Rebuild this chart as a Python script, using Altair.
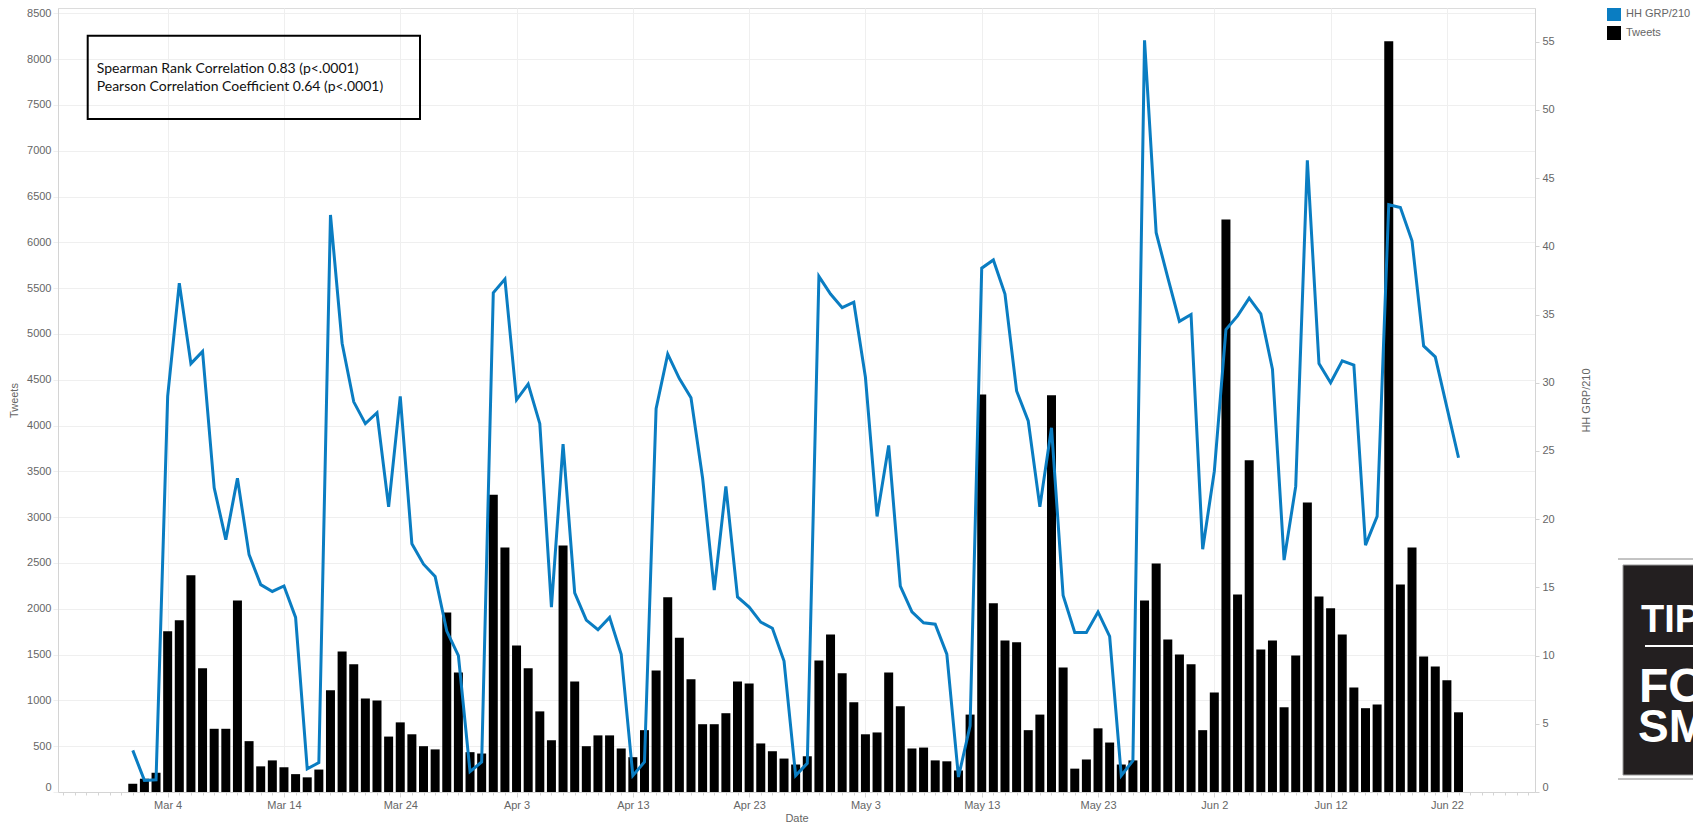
import altair as alt
import pandas as pd

# ---------------- data ----------------
dates = pd.date_range("2015-03-01", "2015-06-23", freq="D")

tweets = [
    # March
    90, 145, 210, 1755, 1875, 2365, 1350, 690, 690, 2090,
    555, 280, 345, 270, 195, 160, 245, 1110, 1535, 1395,
    1020, 1000, 605, 760, 630, 500, 465, 1960, 1305, 435, 420,
    # April
    3245, 2670, 1600, 1350, 880, 565, 2690, 1205, 500, 618,
    618, 475, 380, 675, 1325, 2125, 1685, 1230, 740, 740,
    860, 1205, 1185, 530, 445, 365, 300, 390, 1435, 1720,
    # May
    1295, 980, 630, 650, 1305, 935, 475, 485, 345, 335,
    235, 845, 4340, 2060, 1655, 1635, 675, 845, 4330, 1360,
    255, 355, 695, 540, 300, 345, 2090, 2495, 1665, 1500, 1395,
    # June
    675, 1085, 6250, 2155, 3620, 1555, 1655, 925, 1490, 3160,
    2135, 2005, 1720, 1140, 915, 955, 8195, 2265, 2670, 1480,
    1370, 1220, 870,
]

hh_grp = [
    # March
    3.05, 0.85, 0.9, 29.0, 37.3, 31.4, 32.3, 22.3, 18.5, 23.0,
    17.4, 15.2, 14.7, 15.1, 12.8, 1.7, 2.15, 42.3, 32.9, 28.6,
    27.0, 27.8, 20.9, 29.0, 18.2, 16.7, 15.8, 11.8, 10.0, 1.5, 2.2,
    # April
    36.6, 37.6, 28.75, 29.9, 27.0, 13.55, 25.5, 14.6, 12.6, 11.9,
    12.8, 10.1, 1.2, 2.2, 28.1, 32.1, 30.3, 28.9, 23.0, 14.8,
    22.4, 14.3, 13.55, 12.45, 12.0, 9.6, 1.2, 2.1, 37.8, 36.5,
    # May
    35.5, 35.9, 30.4, 20.2, 25.4, 15.1, 13.2, 12.4, 12.3, 10.1,
    1.1, 4.85, 38.4, 39.0, 36.5, 29.4, 27.2, 20.9, 26.7, 14.4,
    11.7, 11.7, 13.2, 11.4, 1.2, 2.3, 55.1, 41.0, 37.7, 34.5, 35.0,
    # June
    17.8, 23.5, 33.9, 34.9, 36.2, 35.05, 31.0, 17.0, 22.4, 46.3,
    31.4, 30.0, 31.6, 31.3, 18.1, 20.2, 43.05, 42.85, 40.4, 32.7,
    31.9, 28.2, 24.5,
]

series_names = ["HH GRP/210", "Tweets"]
series_colors = ["#0a7dc2", "#000000"]

major_dates = [(3, 4), (3, 14), (3, 24), (4, 3), (4, 13), (4, 23),
               (5, 3), (5, 13), (5, 23), (6, 2), (6, 12), (6, 22)]
tweet_ticks = list(range(0, 8501, 500))
grp_ticks = list(range(0, 56, 5))

annotation_lines = [
    "Spearman Rank Correlation 0.83 (p<.0001)",
    "Pearson Correlation Coefficient 0.64 (p<.0001)",
]

df = pd.DataFrame({"Date": dates, "Tweets": tweets, "HH_GRP": hh_grp})

# ---------------- styling ----------------
FONT = "Liberation Sans, Arial, sans-serif"
GRAY_TXT = "#666666"
GRID = "#efefef"
AXLINE = "#d4d4d4"
W, H = 1477, 784

major_vals = [alt.DateTime(year=2015, month=m, date=d) for m, d in major_dates]
minor_vals = [alt.DateTime(year=t.year, month=t.month, date=t.day)
              for t in pd.date_range("2015-02-23", "2015-06-29", freq="D")]
x_domain = [alt.DateTime(year=2015, month=2, date=23),
            alt.DateTime(year=2015, month=6, date=29, hours=3, minutes=30)]

bars = alt.Chart(df).transform_calculate(series="'Tweets'").mark_bar(size=9).encode(
    x=alt.X("Date:T",
            scale=alt.Scale(domain=x_domain, nice=False),
            axis=alt.Axis(orient="bottom", values=major_vals, format="%b %-d",
                          title="Date", grid=True, gridColor=GRID,
                          tickSize=5, tickColor=AXLINE, domainColor=AXLINE,
                          labelColor=GRAY_TXT, labelFontSize=11, labelPadding=2,
                          titleColor=GRAY_TXT, titleFontSize=11,
                          titleFontWeight="normal", titlePadding=2)),
    y=alt.Y("Tweets:Q",
            scale=alt.Scale(domain=[0, 8558], nice=False),
            axis=alt.Axis(orient="left", values=tweet_ticks, format="d",
                          title="Tweets",
                          grid=True, gridColor=GRID, tickSize=5, tickColor=GRID,
                          domainColor=AXLINE, labelColor=GRAY_TXT,
                          labelFontSize=11, labelPadding=2, labelFlush=True,
                          titleColor=GRAY_TXT, titleFontSize=11,
                          titleFontWeight="normal", titlePadding=7)),
    color=alt.Color("series:N",
                    scale=alt.Scale(domain=series_names, range=series_colors),
                    legend=alt.Legend(title=None, orient="none", legendX=1549,
                                      legendY=-1, symbolType="square",
                                      symbolSize=196, symbolStrokeWidth=0,
                                      symbolOpacity=1, labelFontSize=11,
                                      labelColor=GRAY_TXT, labelOffset=5,
                                      rowPadding=5, padding=0)),
)

line = alt.Chart(df).mark_line(color=series_colors[0], strokeWidth=3).encode(
    x=alt.X("Date:T",
            axis=alt.Axis(orient="bottom", values=minor_vals, labels=False,
                          grid=False, domain=False, title=None, tickSize=3,
                          tickColor=AXLINE)),
    y=alt.Y("HH_GRP:Q",
            scale=alt.Scale(domain=[0, 57.47], nice=False),
            axis=alt.Axis(orient="right", values=grp_ticks, title="HH GRP/210",
                          titleAngle=270, grid=False, tickSize=4,
                          tickColor=AXLINE, domainColor=AXLINE,
                          labelColor=GRAY_TXT, labelFontSize=11,
                          labelPadding=3, labelFlush=True,
                          titleColor=GRAY_TXT, titleFontSize=11,
                          titleFontWeight="normal", titlePadding=37)),
)

one = pd.DataFrame({"k": [0]})

box = alt.Chart(one).mark_rect(fillOpacity=0, stroke="#000000", strokeWidth=2).encode(
    x=alt.value(29.7), x2=alt.value(362), y=alt.value(27.7), y2=alt.value(111))

txt1 = alt.Chart(one).mark_text(align="left", baseline="middle", font="Lato",
                                fontSize=14, color="#111111").encode(
    x=alt.value(38.7), y=alt.value(60.8), text=alt.value(annotation_lines[0]))
txt2 = alt.Chart(one).mark_text(align="left", baseline="middle", font="Lato",
                                fontSize=14, color="#111111").encode(
    x=alt.value(38.7), y=alt.value(78.5), text=alt.value(annotation_lines[1]))

# logo fragment at the bottom right of the reference
logo_bg = alt.Chart(one).mark_rect(fill="#231f20", stroke="#999999", strokeWidth=1).encode(
    x=alt.value(1565), x2=alt.value(1700), y=alt.value(557), y2=alt.value(767))
logo_frame = alt.Chart(one).mark_rule(color="#888888", strokeWidth=1).encode(
    x=alt.value(1560), x2=alt.value(1700), y=alt.value(551))
logo_frame2 = alt.Chart(one).mark_rule(color="#888888", strokeWidth=1).encode(
    x=alt.value(1560), x2=alt.value(1700), y=alt.value(771))
logo_rule = alt.Chart(one).mark_rule(color="#ffffff", strokeWidth=2).encode(
    x=alt.value(1587), x2=alt.value(1700), y=alt.value(638))
logo_t1 = alt.Chart(one).mark_text(align="left", baseline="alphabetic", font=FONT,
                                   fontSize=38, fontWeight="bold", color="#ffffff").encode(
    x=alt.value(1583), y=alt.value(624), text=alt.value("TIPS"))
logo_t2 = alt.Chart(one).mark_text(align="left", baseline="alphabetic", font=FONT,
                                   fontSize=48, fontWeight="bold", color="#ffffff").encode(
    x=alt.value(1581), y=alt.value(694), text=alt.value("FO"))
logo_t3 = alt.Chart(one).mark_text(align="left", baseline="alphabetic", font=FONT,
                                   fontSize=46, fontWeight="bold", color="#ffffff").encode(
    x=alt.value(1580), y=alt.value(734), text=alt.value("SM"))

chart = alt.layer(
    bars, line, box, txt1, txt2,
    logo_bg, logo_frame, logo_frame2, logo_rule, logo_t1, logo_t2, logo_t3,
).resolve_scale(
    y="independent"
).resolve_axis(
    x="independent"
).properties(
    width=W, height=H,
    autosize=alt.AutoSizeParams(type="none"),
    padding={"left": 50, "top": 0, "right": 158, "bottom": 32},
).configure(
    font=FONT,
).configure_view(
    stroke="#dcdcdc",
)

chart.save("out.html", embed_options={"renderer": "svg", "actions": False})
